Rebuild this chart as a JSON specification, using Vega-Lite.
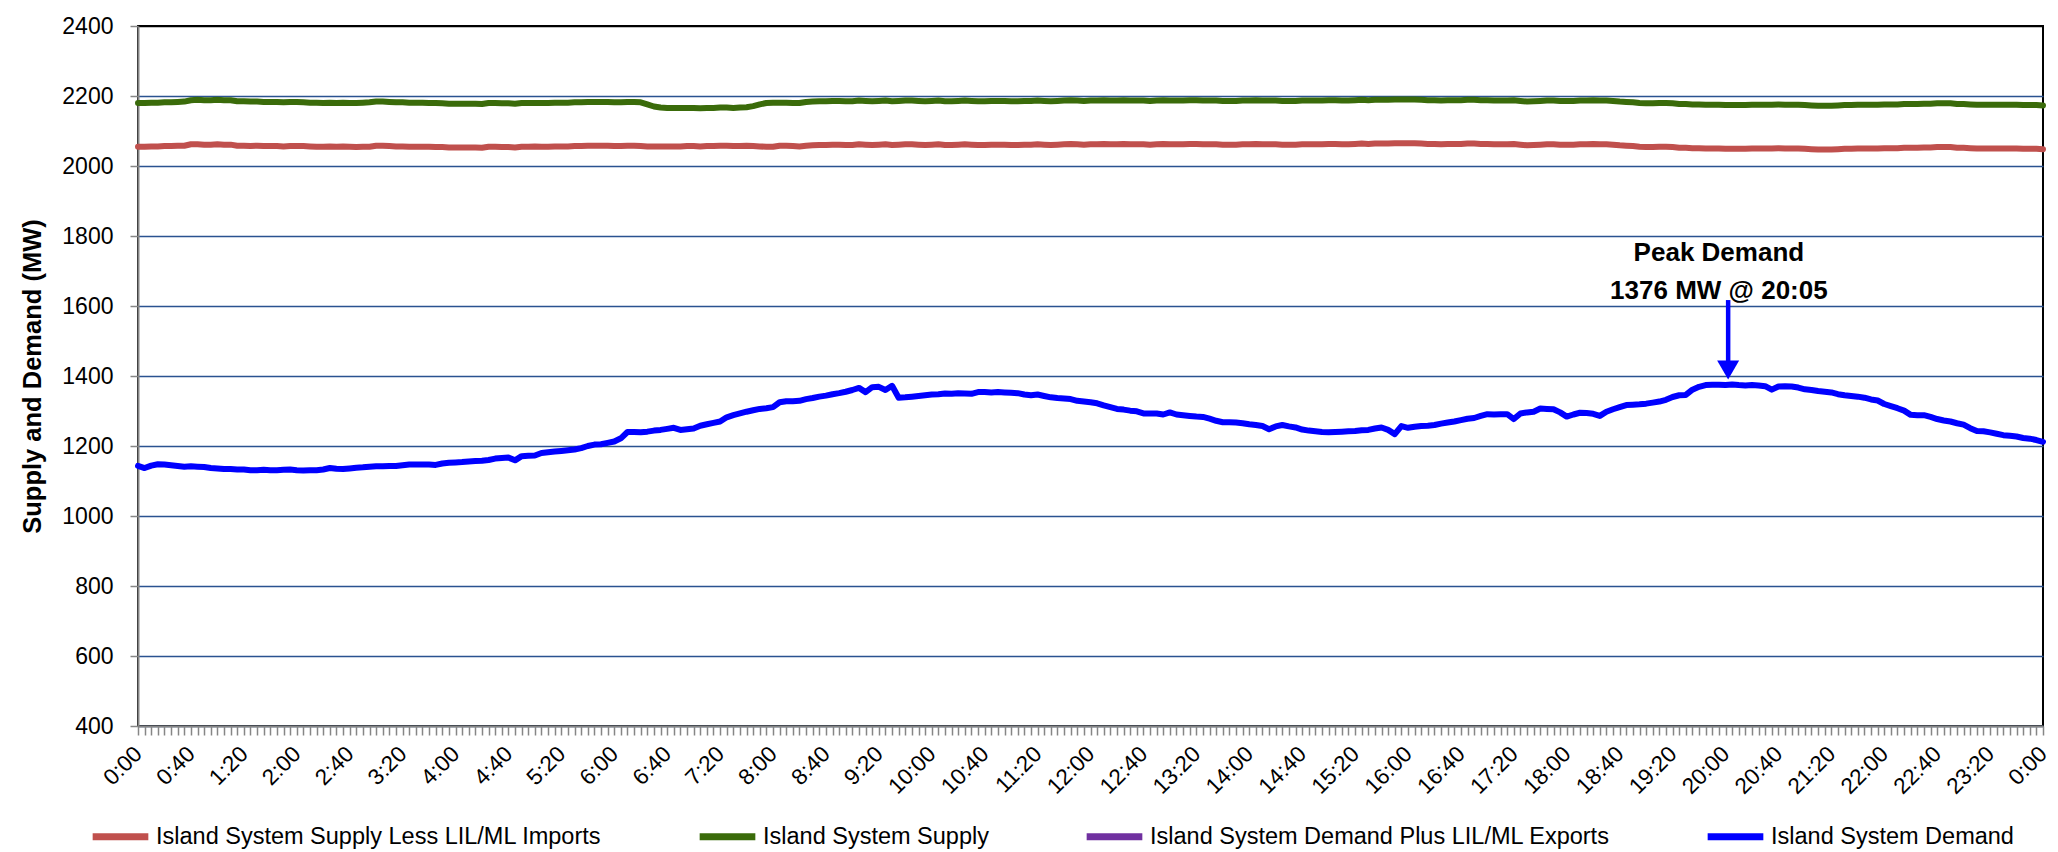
{
  "$schema": "https://vega.github.io/schema/vega-lite/v6.json",
  "width": 1905,
  "height": 700,
  "autosize": {"type": "none"},
  "padding": {"left": 138, "top": 26, "right": 15, "bottom": 126},
  "background": "white",
  "datasets": {
    "load": [
      {"min":0,"less":2055,"supply":2180,"demand":1143},
      {"min":5,"less":2055,"supply":2180,"demand":1137},
      {"min":10,"less":2056,"supply":2181,"demand":1144},
      {"min":15,"less":2056,"supply":2181,"demand":1148},
      {"min":20,"less":2057,"supply":2182,"demand":1147},
      {"min":25,"less":2057,"supply":2182,"demand":1145},
      {"min":30,"less":2058,"supply":2183,"demand":1143},
      {"min":35,"less":2058,"supply":2184,"demand":1141},
      {"min":40,"less":2062,"supply":2188,"demand":1142},
      {"min":45,"less":2062,"supply":2189,"demand":1141},
      {"min":50,"less":2061,"supply":2188,"demand":1140},
      {"min":55,"less":2061,"supply":2188,"demand":1137},
      {"min":60,"less":2062,"supply":2189,"demand":1136},
      {"min":65,"less":2061,"supply":2188,"demand":1134},
      {"min":70,"less":2061,"supply":2188,"demand":1134},
      {"min":75,"less":2058,"supply":2185,"demand":1133},
      {"min":80,"less":2058,"supply":2185,"demand":1133},
      {"min":85,"less":2057,"supply":2184,"demand":1131},
      {"min":90,"less":2058,"supply":2184,"demand":1131},
      {"min":95,"less":2057,"supply":2183,"demand":1132},
      {"min":100,"less":2057,"supply":2183,"demand":1131},
      {"min":105,"less":2057,"supply":2183,"demand":1131},
      {"min":110,"less":2056,"supply":2182,"demand":1132},
      {"min":115,"less":2057,"supply":2183,"demand":1133},
      {"min":120,"less":2057,"supply":2183,"demand":1131},
      {"min":125,"less":2057,"supply":2182,"demand":1130},
      {"min":130,"less":2056,"supply":2181,"demand":1131},
      {"min":135,"less":2055,"supply":2181,"demand":1131},
      {"min":140,"less":2055,"supply":2180,"demand":1133},
      {"min":145,"less":2056,"supply":2181,"demand":1137},
      {"min":150,"less":2055,"supply":2180,"demand":1135},
      {"min":155,"less":2056,"supply":2181,"demand":1134},
      {"min":160,"less":2055,"supply":2180,"demand":1136},
      {"min":165,"less":2054,"supply":2180,"demand":1138},
      {"min":170,"less":2055,"supply":2181,"demand":1139},
      {"min":175,"less":2055,"supply":2182,"demand":1141},
      {"min":180,"less":2058,"supply":2184,"demand":1142},
      {"min":185,"less":2058,"supply":2184,"demand":1142},
      {"min":190,"less":2057,"supply":2183,"demand":1143},
      {"min":195,"less":2056,"supply":2182,"demand":1143},
      {"min":200,"less":2056,"supply":2182,"demand":1145},
      {"min":205,"less":2055,"supply":2181,"demand":1147},
      {"min":210,"less":2055,"supply":2181,"demand":1147},
      {"min":215,"less":2055,"supply":2181,"demand":1147},
      {"min":220,"less":2055,"supply":2180,"demand":1147},
      {"min":225,"less":2054,"supply":2180,"demand":1146},
      {"min":230,"less":2054,"supply":2179,"demand":1150},
      {"min":235,"less":2053,"supply":2178,"demand":1152},
      {"min":240,"less":2053,"supply":2178,"demand":1153},
      {"min":245,"less":2053,"supply":2178,"demand":1154},
      {"min":250,"less":2053,"supply":2178,"demand":1156},
      {"min":255,"less":2053,"supply":2178,"demand":1157},
      {"min":260,"less":2052,"supply":2177,"demand":1158},
      {"min":265,"less":2055,"supply":2180,"demand":1160},
      {"min":270,"less":2055,"supply":2180,"demand":1164},
      {"min":275,"less":2054,"supply":2179,"demand":1166},
      {"min":280,"less":2054,"supply":2179,"demand":1167},
      {"min":285,"less":2053,"supply":2178,"demand":1159},
      {"min":290,"less":2055,"supply":2180,"demand":1171},
      {"min":295,"less":2055,"supply":2180,"demand":1172},
      {"min":300,"less":2056,"supply":2180,"demand":1173},
      {"min":305,"less":2055,"supply":2180,"demand":1180},
      {"min":310,"less":2055,"supply":2180,"demand":1182},
      {"min":315,"less":2056,"supply":2181,"demand":1184},
      {"min":320,"less":2056,"supply":2181,"demand":1186},
      {"min":325,"less":2056,"supply":2181,"demand":1188},
      {"min":330,"less":2057,"supply":2182,"demand":1190},
      {"min":335,"less":2057,"supply":2182,"demand":1194},
      {"min":340,"less":2058,"supply":2183,"demand":1200},
      {"min":345,"less":2058,"supply":2183,"demand":1204},
      {"min":350,"less":2058,"supply":2183,"demand":1205},
      {"min":355,"less":2058,"supply":2183,"demand":1209},
      {"min":360,"less":2057,"supply":2182,"demand":1213},
      {"min":365,"less":2057,"supply":2182,"demand":1222},
      {"min":370,"less":2058,"supply":2183,"demand":1240},
      {"min":375,"less":2058,"supply":2183,"demand":1240},
      {"min":380,"less":2057,"supply":2182,"demand":1239},
      {"min":385,"less":2056,"supply":2176,"demand":1241},
      {"min":390,"less":2056,"supply":2170,"demand":1244},
      {"min":395,"less":2056,"supply":2167,"demand":1246},
      {"min":400,"less":2056,"supply":2166,"demand":1249},
      {"min":405,"less":2056,"supply":2166,"demand":1252},
      {"min":410,"less":2056,"supply":2166,"demand":1246},
      {"min":415,"less":2057,"supply":2166,"demand":1248},
      {"min":420,"less":2057,"supply":2166,"demand":1250},
      {"min":425,"less":2056,"supply":2165,"demand":1258},
      {"min":430,"less":2057,"supply":2166,"demand":1262},
      {"min":435,"less":2057,"supply":2166,"demand":1266},
      {"min":440,"less":2058,"supply":2167,"demand":1270},
      {"min":445,"less":2058,"supply":2167,"demand":1282},
      {"min":450,"less":2057,"supply":2166,"demand":1288},
      {"min":455,"less":2057,"supply":2167,"demand":1293},
      {"min":460,"less":2058,"supply":2168,"demand":1298},
      {"min":465,"less":2057,"supply":2171,"demand":1302},
      {"min":470,"less":2056,"supply":2176,"demand":1306},
      {"min":475,"less":2055,"supply":2180,"demand":1308},
      {"min":480,"less":2055,"supply":2181,"demand":1311},
      {"min":485,"less":2058,"supply":2181,"demand":1325},
      {"min":490,"less":2058,"supply":2181,"demand":1328},
      {"min":495,"less":2057,"supply":2180,"demand":1328},
      {"min":500,"less":2056,"supply":2180,"demand":1329},
      {"min":505,"less":2058,"supply":2183,"demand":1334},
      {"min":510,"less":2059,"supply":2184,"demand":1337},
      {"min":515,"less":2060,"supply":2185,"demand":1341},
      {"min":520,"less":2060,"supply":2185,"demand":1344},
      {"min":525,"less":2061,"supply":2186,"demand":1348},
      {"min":530,"less":2061,"supply":2186,"demand":1351},
      {"min":535,"less":2060,"supply":2185,"demand":1355},
      {"min":540,"less":2060,"supply":2185,"demand":1360},
      {"min":545,"less":2062,"supply":2187,"demand":1366},
      {"min":550,"less":2061,"supply":2186,"demand":1354},
      {"min":555,"less":2060,"supply":2185,"demand":1368},
      {"min":560,"less":2061,"supply":2186,"demand":1369},
      {"min":565,"less":2062,"supply":2187,"demand":1360},
      {"min":570,"less":2060,"supply":2185,"demand":1372},
      {"min":575,"less":2061,"supply":2186,"demand":1338},
      {"min":580,"less":2062,"supply":2187,"demand":1339},
      {"min":585,"less":2062,"supply":2187,"demand":1341},
      {"min":590,"less":2061,"supply":2186,"demand":1343},
      {"min":595,"less":2060,"supply":2185,"demand":1345},
      {"min":600,"less":2061,"supply":2186,"demand":1347},
      {"min":605,"less":2062,"supply":2187,"demand":1348},
      {"min":610,"less":2060,"supply":2185,"demand":1350},
      {"min":615,"less":2060,"supply":2185,"demand":1349},
      {"min":620,"less":2061,"supply":2186,"demand":1351},
      {"min":625,"less":2062,"supply":2187,"demand":1350},
      {"min":630,"less":2061,"supply":2186,"demand":1349},
      {"min":635,"less":2060,"supply":2185,"demand":1354},
      {"min":640,"less":2060,"supply":2185,"demand":1354},
      {"min":645,"less":2061,"supply":2186,"demand":1353},
      {"min":650,"less":2061,"supply":2186,"demand":1354},
      {"min":655,"less":2061,"supply":2186,"demand":1353},
      {"min":660,"less":2060,"supply":2185,"demand":1352},
      {"min":665,"less":2060,"supply":2185,"demand":1351},
      {"min":670,"less":2061,"supply":2186,"demand":1347},
      {"min":675,"less":2061,"supply":2186,"demand":1345},
      {"min":680,"less":2062,"supply":2187,"demand":1347},
      {"min":685,"less":2061,"supply":2186,"demand":1343},
      {"min":690,"less":2060,"supply":2185,"demand":1339},
      {"min":695,"less":2061,"supply":2186,"demand":1337},
      {"min":700,"less":2062,"supply":2187,"demand":1336},
      {"min":705,"less":2063,"supply":2188,"demand":1334},
      {"min":710,"less":2062,"supply":2187,"demand":1329},
      {"min":715,"less":2061,"supply":2186,"demand":1327},
      {"min":720,"less":2062,"supply":2187,"demand":1325},
      {"min":725,"less":2062,"supply":2187,"demand":1322},
      {"min":730,"less":2063,"supply":2188,"demand":1316},
      {"min":735,"less":2062,"supply":2187,"demand":1311},
      {"min":740,"less":2062,"supply":2187,"demand":1306},
      {"min":745,"less":2063,"supply":2188,"demand":1304},
      {"min":750,"less":2062,"supply":2187,"demand":1301},
      {"min":755,"less":2062,"supply":2187,"demand":1299},
      {"min":760,"less":2062,"supply":2187,"demand":1293},
      {"min":765,"less":2061,"supply":2186,"demand":1293},
      {"min":770,"less":2062,"supply":2187,"demand":1293},
      {"min":775,"less":2063,"supply":2188,"demand":1290},
      {"min":780,"less":2062,"supply":2187,"demand":1296},
      {"min":785,"less":2062,"supply":2187,"demand":1290},
      {"min":790,"less":2062,"supply":2187,"demand":1288},
      {"min":795,"less":2063,"supply":2188,"demand":1286},
      {"min":800,"less":2063,"supply":2188,"demand":1284},
      {"min":805,"less":2062,"supply":2187,"demand":1283},
      {"min":810,"less":2062,"supply":2187,"demand":1278},
      {"min":815,"less":2062,"supply":2187,"demand":1272},
      {"min":820,"less":2061,"supply":2186,"demand":1268},
      {"min":825,"less":2061,"supply":2186,"demand":1268},
      {"min":830,"less":2061,"supply":2186,"demand":1267},
      {"min":835,"less":2062,"supply":2187,"demand":1265},
      {"min":840,"less":2062,"supply":2187,"demand":1262},
      {"min":845,"less":2063,"supply":2188,"demand":1260},
      {"min":850,"less":2062,"supply":2187,"demand":1257},
      {"min":855,"less":2062,"supply":2187,"demand":1248},
      {"min":860,"less":2062,"supply":2187,"demand":1256},
      {"min":865,"less":2061,"supply":2186,"demand":1260},
      {"min":870,"less":2061,"supply":2186,"demand":1256},
      {"min":875,"less":2061,"supply":2186,"demand":1253},
      {"min":880,"less":2062,"supply":2187,"demand":1247},
      {"min":885,"less":2062,"supply":2187,"demand":1244},
      {"min":890,"less":2062,"supply":2187,"demand":1242},
      {"min":895,"less":2062,"supply":2187,"demand":1240},
      {"min":900,"less":2063,"supply":2188,"demand":1239},
      {"min":905,"less":2063,"supply":2188,"demand":1240},
      {"min":910,"less":2062,"supply":2187,"demand":1241},
      {"min":915,"less":2062,"supply":2187,"demand":1242},
      {"min":920,"less":2063,"supply":2188,"demand":1243},
      {"min":925,"less":2064,"supply":2189,"demand":1245},
      {"min":930,"less":2063,"supply":2188,"demand":1246},
      {"min":935,"less":2064,"supply":2189,"demand":1250},
      {"min":940,"less":2064,"supply":2189,"demand":1253},
      {"min":945,"less":2064,"supply":2189,"demand":1246},
      {"min":950,"less":2065,"supply":2190,"demand":1234},
      {"min":955,"less":2065,"supply":2190,"demand":1257},
      {"min":960,"less":2065,"supply":2190,"demand":1252},
      {"min":965,"less":2065,"supply":2190,"demand":1255},
      {"min":970,"less":2064,"supply":2189,"demand":1257},
      {"min":975,"less":2063,"supply":2188,"demand":1258},
      {"min":980,"less":2063,"supply":2188,"demand":1260},
      {"min":985,"less":2062,"supply":2187,"demand":1264},
      {"min":990,"less":2063,"supply":2188,"demand":1267},
      {"min":995,"less":2063,"supply":2188,"demand":1270},
      {"min":1000,"less":2063,"supply":2188,"demand":1274},
      {"min":1005,"less":2064,"supply":2189,"demand":1278},
      {"min":1010,"less":2064,"supply":2189,"demand":1280},
      {"min":1015,"less":2063,"supply":2188,"demand":1286},
      {"min":1020,"less":2063,"supply":2188,"demand":1291},
      {"min":1025,"less":2062,"supply":2187,"demand":1290},
      {"min":1030,"less":2062,"supply":2187,"demand":1291},
      {"min":1035,"less":2062,"supply":2187,"demand":1291},
      {"min":1040,"less":2063,"supply":2188,"demand":1277},
      {"min":1045,"less":2061,"supply":2186,"demand":1293},
      {"min":1050,"less":2059,"supply":2184,"demand":1296},
      {"min":1055,"less":2060,"supply":2185,"demand":1298},
      {"min":1060,"less":2061,"supply":2186,"demand":1307},
      {"min":1065,"less":2062,"supply":2187,"demand":1306},
      {"min":1070,"less":2062,"supply":2187,"demand":1305},
      {"min":1075,"less":2061,"supply":2186,"demand":1296},
      {"min":1080,"less":2061,"supply":2186,"demand":1284},
      {"min":1085,"less":2061,"supply":2186,"demand":1290},
      {"min":1090,"less":2062,"supply":2187,"demand":1295},
      {"min":1095,"less":2062,"supply":2187,"demand":1294},
      {"min":1100,"less":2063,"supply":2188,"demand":1292},
      {"min":1105,"less":2062,"supply":2187,"demand":1286},
      {"min":1110,"less":2062,"supply":2187,"demand":1298},
      {"min":1115,"less":2061,"supply":2186,"demand":1305},
      {"min":1120,"less":2059,"supply":2184,"demand":1311},
      {"min":1125,"less":2058,"supply":2183,"demand":1317},
      {"min":1130,"less":2057,"supply":2182,"demand":1318},
      {"min":1135,"less":2055,"supply":2180,"demand":1319},
      {"min":1140,"less":2054,"supply":2179,"demand":1321},
      {"min":1145,"less":2054,"supply":2179,"demand":1324},
      {"min":1150,"less":2055,"supply":2180,"demand":1327},
      {"min":1155,"less":2055,"supply":2180,"demand":1332},
      {"min":1160,"less":2054,"supply":2179,"demand":1340},
      {"min":1165,"less":2052,"supply":2177,"demand":1345},
      {"min":1170,"less":2052,"supply":2177,"demand":1346},
      {"min":1175,"less":2051,"supply":2176,"demand":1361},
      {"min":1180,"less":2051,"supply":2176,"demand":1369},
      {"min":1185,"less":2050,"supply":2175,"demand":1374},
      {"min":1190,"less":2050,"supply":2175,"demand":1375},
      {"min":1195,"less":2050,"supply":2175,"demand":1375},
      {"min":1200,"less":2049,"supply":2174,"demand":1374},
      {"min":1205,"less":2049,"supply":2174,"demand":1376},
      {"min":1210,"less":2049,"supply":2174,"demand":1374},
      {"min":1215,"less":2049,"supply":2174,"demand":1373},
      {"min":1220,"less":2050,"supply":2175,"demand":1374},
      {"min":1225,"less":2050,"supply":2175,"demand":1373},
      {"min":1230,"less":2050,"supply":2175,"demand":1371},
      {"min":1235,"less":2050,"supply":2175,"demand":1361},
      {"min":1240,"less":2051,"supply":2176,"demand":1370},
      {"min":1245,"less":2050,"supply":2175,"demand":1371},
      {"min":1250,"less":2050,"supply":2175,"demand":1370},
      {"min":1255,"less":2050,"supply":2175,"demand":1367},
      {"min":1260,"less":2049,"supply":2174,"demand":1362},
      {"min":1265,"less":2048,"supply":2173,"demand":1360},
      {"min":1270,"less":2047,"supply":2172,"demand":1357},
      {"min":1275,"less":2047,"supply":2172,"demand":1355},
      {"min":1280,"less":2047,"supply":2172,"demand":1353},
      {"min":1285,"less":2048,"supply":2173,"demand":1348},
      {"min":1290,"less":2049,"supply":2174,"demand":1345},
      {"min":1295,"less":2049,"supply":2174,"demand":1343},
      {"min":1300,"less":2050,"supply":2175,"demand":1341},
      {"min":1305,"less":2050,"supply":2175,"demand":1338},
      {"min":1310,"less":2050,"supply":2175,"demand":1333},
      {"min":1315,"less":2050,"supply":2175,"demand":1330},
      {"min":1320,"less":2051,"supply":2176,"demand":1320},
      {"min":1325,"less":2051,"supply":2176,"demand":1314},
      {"min":1330,"less":2051,"supply":2176,"demand":1308},
      {"min":1335,"less":2052,"supply":2177,"demand":1301},
      {"min":1340,"less":2052,"supply":2177,"demand":1289},
      {"min":1345,"less":2052,"supply":2177,"demand":1288},
      {"min":1350,"less":2053,"supply":2178,"demand":1288},
      {"min":1355,"less":2053,"supply":2178,"demand":1283},
      {"min":1360,"less":2054,"supply":2179,"demand":1277},
      {"min":1365,"less":2054,"supply":2179,"demand":1273},
      {"min":1370,"less":2054,"supply":2179,"demand":1270},
      {"min":1375,"less":2052,"supply":2177,"demand":1265},
      {"min":1380,"less":2052,"supply":2177,"demand":1261},
      {"min":1385,"less":2051,"supply":2176,"demand":1251},
      {"min":1390,"less":2050,"supply":2175,"demand":1243},
      {"min":1395,"less":2050,"supply":2175,"demand":1242},
      {"min":1400,"less":2050,"supply":2175,"demand":1239},
      {"min":1405,"less":2050,"supply":2175,"demand":1235},
      {"min":1410,"less":2050,"supply":2175,"demand":1231},
      {"min":1415,"less":2050,"supply":2175,"demand":1229},
      {"min":1420,"less":2050,"supply":2175,"demand":1227},
      {"min":1425,"less":2049,"supply":2174,"demand":1223},
      {"min":1430,"less":2049,"supply":2174,"demand":1221},
      {"min":1435,"less":2049,"supply":2174,"demand":1217},
      {"min":1440,"less":2048,"supply":2173,"demand":1212}
    ]
  },
  "layer": [
    {
      "data": {"name": "load"},
      "transform": [
        {"fold": ["less", "supply", "demand"], "as": ["series", "mw"]}
      ],
      "mark": {"type": "line", "strokeWidth": 6, "strokeCap": "round", "strokeJoin": "round"},
      "encoding": {
        "x": {
          "field": "min",
          "type": "quantitative",
          "scale": {"domain": [0, 1440], "nice": false, "zero": false},
          "axis": {
            "title": null,
            "grid": false,
            "tickCount": 288,
            "labelExpr": "datum.value % 40 == 0 ? (floor(datum.value / 60) % 24) + ':' + (datum.value % 60 == 0 ? '00' : datum.value % 60) : ''",
            "labelAngle": -45,
            "labelAlign": "right",
            "labelBaseline": "middle",
            "labelPadding": 15,
            "labelOverlap": false,
            "labelFlush": false,
            "labelFontSize": 22.5,
            "tickSize": 9
          }
        },
        "y": {
          "field": "mw",
          "type": "quantitative",
          "scale": {"domain": [400, 2400], "nice": false, "zero": false},
          "axis": {
            "title": "Supply and Demand (MW)",
            "values": [400, 600, 800, 1000, 1200, 1400, 1600, 1800, 2000, 2200, 2400],
            "format": "d",
            "grid": true,
            "gridColor": {"condition": {"test": "datum.value == 2400", "value": "black"}, "value": "#2A5290"},
            "gridWidth": 1.5,
            "labelFontSize": 23,
            "labelPadding": 17,
            "tickSize": 8,
            "titleFontSize": 25.5,
            "titleFontWeight": "bold",
            "titlePadding": 16
          }
        },
        "color": {
          "field": "series",
          "type": "nominal",
          "scale": {
            "domain": ["less", "supply", "exports", "demand"],
            "range": ["#C0504D", "#3A6B0A", "#7030A0", "#0000FF"]
          },
          "legend": {
            "title": null,
            "orient": "none",
            "direction": "horizontal",
            "legendX": -49,
            "legendY": 779,
            "symbolType": "stroke",
            "symbolSize": 3100,
            "symbolStrokeWidth": 7,
            "labelFontSize": 23.5,
            "labelOffset": 4,
            "labelLimit": 1000,
            "columnPadding": 83,
            "labelExpr": "datum.label == 'less' ? 'Island System Supply Less LIL/ML Imports' : datum.label == 'supply' ? 'Island System Supply' : datum.label == 'exports' ? 'Island System Demand Plus LIL/ML Exports' : 'Island System Demand'"
          }
        }
      }
    },
    {
      "data": {"values": [{}]},
      "mark": {"type": "rule", "color": "#0000FF", "strokeWidth": 4.5},
      "encoding": {
        "x": {"datum": 1202, "type": "quantitative"},
        "y": {"datum": 1617, "type": "quantitative"},
        "y2": {"datum": 1420}
      }
    },
    {
      "data": {"values": [{}]},
      "mark": {"type": "point", "shape": "triangle-down", "filled": true, "color": "#0000FF", "opacity": 1, "size": 484},
      "encoding": {
        "x": {"datum": 1202, "type": "quantitative"},
        "y": {"datum": 1417, "type": "quantitative"}
      }
    },
    {
      "data": {"values": [{}]},
      "mark": {
        "type": "text",
        "text": ["Peak Demand", "1376 MW @ 20:05"],
        "lineHeight": 38,
        "fontSize": 26,
        "fontWeight": "bold",
        "align": "center",
        "baseline": "middle",
        "color": "black"
      },
      "encoding": {
        "x": {"datum": 1195, "type": "quantitative"},
        "y": {"datum": 1751, "type": "quantitative"}
      }
    }
  ],
  "config": {
    "font": "Liberation Sans",
    "view": {"stroke": "black", "strokeWidth": 2},
    "axis": {
      "domainColor": "#868686",
      "domainWidth": 2,
      "tickColor": "#868686",
      "tickWidth": 1.5,
      "labelColor": "black",
      "titleColor": "black"
    },
    "legend": {"labelColor": "black"}
  }
}
